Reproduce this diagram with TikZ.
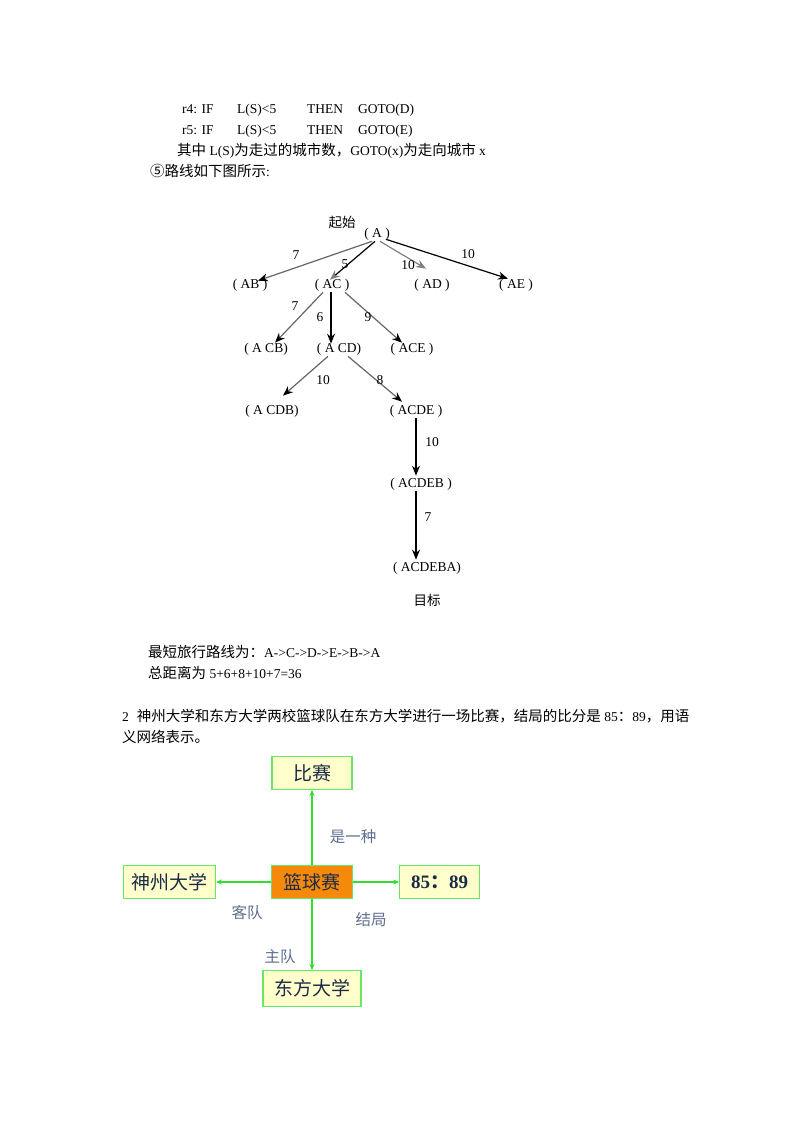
\documentclass[tikz,border=0pt]{standalone}
\usepackage{fontspec}
\setmainfont{Liberation Serif}
\newfontfamily\cjk{Noto Sans CJK SC}
\usepackage{tikz}
\usetikzlibrary{arrows.meta,positioning}
\definecolor{netgreen}{HTML}{66E866}
\definecolor{arrowgreen}{HTML}{33DD33}
\definecolor{boxyellow}{HTML}{FFFFCC}
\definecolor{gameorange}{HTML}{F58A0A}
\definecolor{boxtext}{HTML}{1C2A48}
\definecolor{reltext}{HTML}{5E6E8E}
\newcommand{\zh}[1]{{\cjk\fontsize{14.5}{16}\selectfont #1}}
\tikzset{
    %Define style for text lines
    txtline/.style={
           anchor=base west,
           inner sep=0pt,
           font=\fontsize{13.5}{16}\selectfont},
    %Define style for search states
    state/.style={
           inner sep=1pt,
           font=\fontsize{13.5}{16}\selectfont},
    wt/.style={
           inner sep=0pt,
           font=\fontsize{13.5}{16}\selectfont},
    % Define arrow styles
    blk/.style={
           -{Stealth[length=10pt,width=8pt,color=black]},
           line width=1.2pt, draw=black},
    mix/.style={
           -{Stealth[length=10pt,width=8pt,color=black]},
           line width=1.2pt, draw=black!60},
    gry/.style={
           -{Stealth[length=10pt,width=8pt,color=black!50]},
           line width=1.2pt, draw=black!50},
    %Define style for net boxes
    netbox/.style={
           rectangle,
           draw=netgreen, line width=1.2pt,
           fill=boxyellow,
           minimum width=80pt,
           minimum height=33pt,
           text=boxtext,
           font=\cjk\fontsize{19}{22}\selectfont,
           text centered},
    rel/.style={
           text=reltext,
           inner sep=0pt,
           font=\cjk\fontsize{15.5}{18}\selectfont},
    link/.style={
           -{Stealth[length=6pt,width=5pt]},
           line width=1.1pt, draw=arrowgreen}
}
\begin{document}
\begin{tikzpicture}[x=1pt,y=-1pt]
\useasboundingbox (0,0) rectangle (800,1132);

 %text above
\node[txtline] (r4) at (182,113) {\makebox[55pt][l]{r4: IF}\makebox[70pt][l]{L(S)<5}\makebox[51pt][l]{THEN}GOTO(D)};
\node[txtline] (r5) at (182,134) {\makebox[55pt][l]{r5: IF}\makebox[70pt][l]{L(S)<5}\makebox[51pt][l]{THEN}GOTO(E)};
\node[txtline] (note) at (177,155) {\zh{其中} L(S)\zh{为走过的城市数，}GOTO(x)\zh{为走向城市} x};
\node[txtline] (route) at (150,176) {\zh{⑤路线如下图所示}:};

 %search tree
\node[state] (start) at (342,222) {\cjk 起始};
\node[state] (A) at (377,234) {( A )};
\node[state] (AB) at (250,285) {( AB )};
\node[state] (AC) at (332,285) {( AC )};
\node[state] (AD) at (432,285) {( AD )};
\node[state] (AE) at (516,285) {( AE )};
\node[state] (ACB) at (266,349) {( A CB)};
\node[state] (ACD) at (339,349) {( A CD)};
\node[state] (ACE) at (412,349) {( ACE )};
\node[state] (ACDB) at (272,411) {( A CDB)};
\node[state] (ACDE) at (416,411) {( ACDE )};
\node[state] (ACDEB) at (421,484) {( ACDEB )};
\node[state] (ACDEBA) at (427,568) {( ACDEBA)};
\node[state] (goal) at (427,600) {\cjk 目标};

\draw[mix] ([xshift=-5pt]A.south) -- ([xshift=8pt,yshift=-3pt]AB.north);
\draw[blk, -{Stealth[length=10pt,width=8pt,color=black!50]}] ([xshift=-2pt]A.south) -- ([xshift=-2pt,yshift=-2pt]AC.north);
\draw[gry] ([xshift=3pt]A.south) -- ([xshift=-6pt,yshift=9pt]AD.north);
\draw[blk] ([xshift=9pt,yshift=2pt]A.south) -- ([xshift=-8pt,yshift=-1pt]AE.north);
\draw[mix] ([xshift=-9pt]AC.south) -- ([xshift=9pt,yshift=-1pt]ACB.north);
\draw[blk] (AC.south -| 331,0) -- ([yshift=-2pt]ACD.north -| 331,0);
\draw[mix] ([xshift=13pt]AC.south) -- ([xshift=-10pt,yshift=-1pt]ACE.north);
\draw[mix] ([xshift=-11pt]ACD.south) -- ([xshift=11pt,yshift=8pt]ACDB.north);
\draw[mix] ([xshift=9pt]ACD.south) -- ([xshift=-14pt,yshift=2pt]ACDE.north);
\draw[blk] (ACDE.south -| 416,0) -- ([yshift=1pt]ACDEB.north -| 416,0);
\draw[blk] (ACDEB.south -| 416,0) -- ([yshift=1pt]ACDEBA.north -| 416,0);

 %distances
\node[wt] (w1) at (296,255) {7};
\node[wt] (w2) at (345,264) {5};
\node[wt] (w3) at (408,265) {10};
\node[wt] (w4) at (468,254) {10};
\node[wt] (w5) at (295,306) {7};
\node[wt] (w6) at (320,317) {6};
\node[wt] (w7) at (368,317) {9};
\node[wt] (w8) at (323,380) {10};
\node[wt] (w9) at (380,380) {8};
\node[wt] (w10) at (432,442) {10};
\node[wt] (w11) at (428,517) {7};

 %text below
\node[txtline] (path) at (148,657) {\zh{最短旅行路线为：}A->C->D->E->B->A};
\node[txtline] (total) at (148,678) {\zh{总距离为} 5+6+8+10+7=36};
\node[txtline] (q2) at (122,721) {2\hspace{8pt}\zh{神州大学和东方大学两校篮球队在东方大学进行一场比赛，结局的比分是} 85\zh{：}89\zh{，用语}};
\node[txtline] (q2b) at (122,742) {\zh{义网络表示。}};

 %semantic net
\node[netbox, fill=gameorange, minimum width=81pt] (game) at (312,882) {篮球赛};
\node[netbox, above=75pt of game] (match) {比赛};
\node[netbox, left=55pt of game, minimum width=92pt] (guest) {神州大学};
\node[netbox, right=46pt of game, font=\bfseries\fontsize{19}{22}\selectfont] (score) {85{\cjk\bfseries ：}89};
\node[netbox, below=71pt of game, minimum width=98pt, minimum height=36pt] (host) {东方大学};

\draw[link] (game) -- (match);
\draw[link] (game) -- (guest);
\draw[link] (game) -- (score);
\draw[link] (game) -- (host);

\node[rel] (isa) at (353,837) {是一种};
\node[rel] (away) at (247,913) {客队};
\node[rel] (result) at (371,920) {结局};
\node[rel] (home) at (280,957) {主队};
\end{tikzpicture}
\end{document}
